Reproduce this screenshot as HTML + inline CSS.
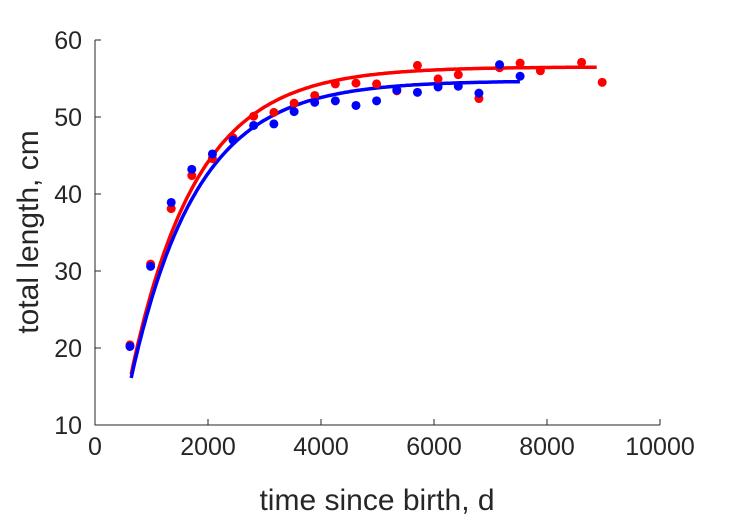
<!DOCTYPE html>
<html><head><meta charset="utf-8"><style>
html,body{margin:0;padding:0;background:#fff;}
svg{display:block;font-family:"Liberation Sans",sans-serif;}
</style></head><body>
<svg id="chart" width="729" height="521" viewBox="0 0 729 521" xmlns="http://www.w3.org/2000/svg">
<g id="axes"></g>
<g id="curves"></g>
<g id="points"></g>
<text x="377" y="510" text-anchor="middle" font-size="30" fill="#262626">time since birth, d</text>
<text transform="translate(38,232) rotate(-90)" text-anchor="middle" font-size="30" fill="#262626">total length, cm</text>
</svg>
<script>
const xTicks = [0, 2000, 4000, 6000, 8000, 10000];
const yTicks = [10, 20, 30, 40, 50, 60];
const redT = [619,984,1349,1713,2078,2443,2808,3166,3524,3889,4254,4619,4984,5342,5707,6072,6430,6795,7160,7524,7883,8612,8977];
const redL = [20.4,30.9,38.1,42.4,44.6,47.3,50.1,50.6,51.8,52.8,54.3,54.4,54.3,53.4,56.7,54.95,55.5,52.4,56.4,57.0,56.0,57.1,54.5];
const blueT = [619,984,1349,1713,2078,2443,2808,3166,3524,3889,4254,4619,4984,5342,5707,6072,6430,6795,7160,7524];
const blueL = [20.2,30.6,38.9,43.2,45.2,47.0,48.9,49.1,50.7,51.9,52.1,51.5,52.1,53.5,53.2,53.9,54.0,53.1,56.8,55.3];
// fitted von Bertalanffy parameters: [Linf, L0 at tStart, k, tStart, tEnd]
const redFit = [56.5, 16.6, 0.000863, 640, 8880];
const blueFit = [54.7, 16.1, 0.000857, 640, 7520];

const X = v => 95 + (v - 0) / 10000 * 565;
const Y = v => 425 - (v - 10) / 50 * 385;
const NS = "http://www.w3.org/2000/svg";
function mk(tag, attrs, parent){const e=document.createElementNS(NS,tag);for(const k in attrs)e.setAttribute(k,attrs[k]);parent.appendChild(e);return e;}
const axes=document.getElementById('axes');
const ax1=mk('path',{d:`M95,40 V425 H660`,fill:'none',stroke:'#262626','stroke-width':1},axes);


xTicks.forEach(t=>{
  const l=mk('line',{x1:X(t),x2:X(t),y1:425,y2:419,stroke:'#262626','stroke-width':1},axes);
  
  
  const tx=mk('text',{x:X(t),y:455,'text-anchor':'middle','font-size':25,fill:'#262626'},axes);
  tx.textContent=t;
  
  
});
yTicks.forEach(t=>{
  const l=mk('line',{x1:95,x2:101,y1:Y(t),y2:Y(t),stroke:'#262626','stroke-width':1},axes);
  
  
  const tx=mk('text',{x:82,y:Y(t)+9,'text-anchor':'end','font-size':25,fill:'#262626'},axes);
  tx.textContent=t;
  
  
});
const curves=document.getElementById('curves');
function curve(p,color,name){
  const [Li,L0,k,t0,t1]=p;let d='';
  for(let i=0;i<=200;i++){const t=t0+(t1-t0)*i/200;const L=Li-(Li-L0)*Math.exp(-k*(t-t0));d+=(i?'L':'M')+X(t).toFixed(1)+','+Y(L).toFixed(1);}
  const e=mk('path',{d:d,fill:'none',stroke:color,'stroke-width':3.5},curves);
  
  
}
curve(redFit,'#ff0000','red-fit-curve');
curve(blueFit,'#0000ff','blue-fit-curve');
const pts=document.getElementById('points');
redT.forEach((t,i)=>{
  const c=mk('circle',{cx:X(t),cy:Y(redL[i]),r:4.5,fill:'#ff0000'},pts);
  
  
});
blueT.forEach((t,i)=>{
  const c=mk('circle',{cx:X(t),cy:Y(blueL[i]),r:4.5,fill:'#0000ff'},pts);
  
  
});
</script>
</body></html>
